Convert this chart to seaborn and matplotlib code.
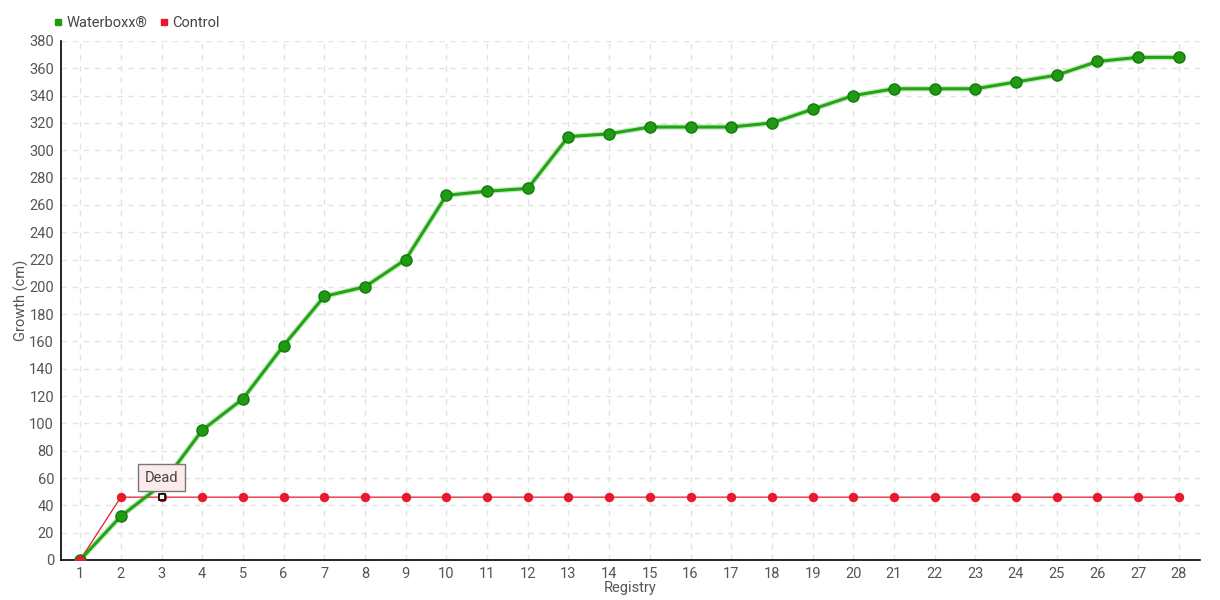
import pandas as pd
import matplotlib.pyplot as plt
import seaborn as sns

# Registry number (x) and growth in cm for both plants
registry = list(range(1, 29))
waterboxx = [0, 32, 55, 95, 118, 157, 193, 200, 220, 267, 270, 272, 310, 312,
             317, 317, 317, 320, 330, 340, 345, 345, 345, 350, 355, 365, 368, 368]
control = [0] + [46] * 27
dead_at = 3

green = '#1f9a12'
red = '#e8192c'

df = pd.DataFrame({'Registry': registry, 'Waterboxx®': waterboxx, 'Control': control})

sns.set_style('white')
plt.rcParams['font.family'] = ['Liberation Sans Narrow', 'Roboto', 'DejaVu Sans']

fig = plt.figure(figsize=(12.2, 6), dpi=100)
ax = fig.add_axes([0.05, 0.0667, 0.9336, 0.865])

# light halo under the green line
sns.lineplot(data=df, x='Registry', y='Waterboxx®', ax=ax, color='#8fd48a',
             linewidth=4, alpha=0.5, legend=False, zorder=2)
sns.lineplot(data=df, x='Registry', y='Control', ax=ax, color=red, linewidth=0.9,
             marker='o', markersize=6, markeredgecolor=red, legend=False, zorder=3)
sns.lineplot(data=df, x='Registry', y='Waterboxx®', ax=ax, color='#22a512',
             linewidth=2.2, marker='o', markersize=8, markerfacecolor=green,
             markeredgecolor='#147a0c', markeredgewidth=1, legend=False, zorder=4)
# control start point sits on top of the green one
ax.plot([registry[0]], [control[0]], marker='o', markersize=6, color=red,
        markeredgecolor=red, zorder=5)

# highlighted control point with "Dead" label
ax.plot([dead_at], [control[dead_at - 1]], marker='s', markersize=4.5,
        markerfacecolor='white', markeredgecolor='black', markeredgewidth=1.2, zorder=6)
ax.annotate('Dead', xy=(dead_at, control[dead_at - 1]), xytext=(0, 9),
            textcoords='offset points', ha='center', va='bottom', fontsize=10.5,
            color='#444444',
            bbox=dict(boxstyle='square,pad=0.45', facecolor='#fdeaea',
                      edgecolor='#777777', linewidth=1), zorder=7)

ax.set_xlim(0.53, 28.52)
ax.set_ylim(0, 380)
ax.set_xticks(registry)
ax.set_yticks(range(0, 381, 20))
ax.grid(True, linestyle=(0, (4, 4)), color='#e3e3e3', linewidth=1)
ax.tick_params(axis='both', labelsize=10.5, labelcolor='#555555', length=4,
               width=1, color='black', direction='out', pad=1)
for side in ['top', 'right']:
    ax.spines[side].set_visible(False)
for side in ['left', 'bottom']:
    ax.spines[side].set_color('black')
    ax.spines[side].set_linewidth(1.2)
ax.set_xlabel('Registry', fontsize=10.5, color='#555555', labelpad=0)
ax.set_ylabel('Growth (cm)', fontsize=10.5, color='#555555', labelpad=0)

handles = [plt.Line2D([], [], marker='s', linestyle='', color=green, markersize=5),
           plt.Line2D([], [], marker='s', linestyle='', color=red, markersize=5)]
fig.legend(handles, ['Waterboxx®', 'Control'], loc='upper left',
           bbox_to_anchor=(0.033, 0.995), ncol=2, frameon=False, fontsize=10.5,
           handlelength=0.6, handletextpad=0.3, columnspacing=0.8,
           labelcolor='#444444')

fig.savefig('out.png', dpi=100)
